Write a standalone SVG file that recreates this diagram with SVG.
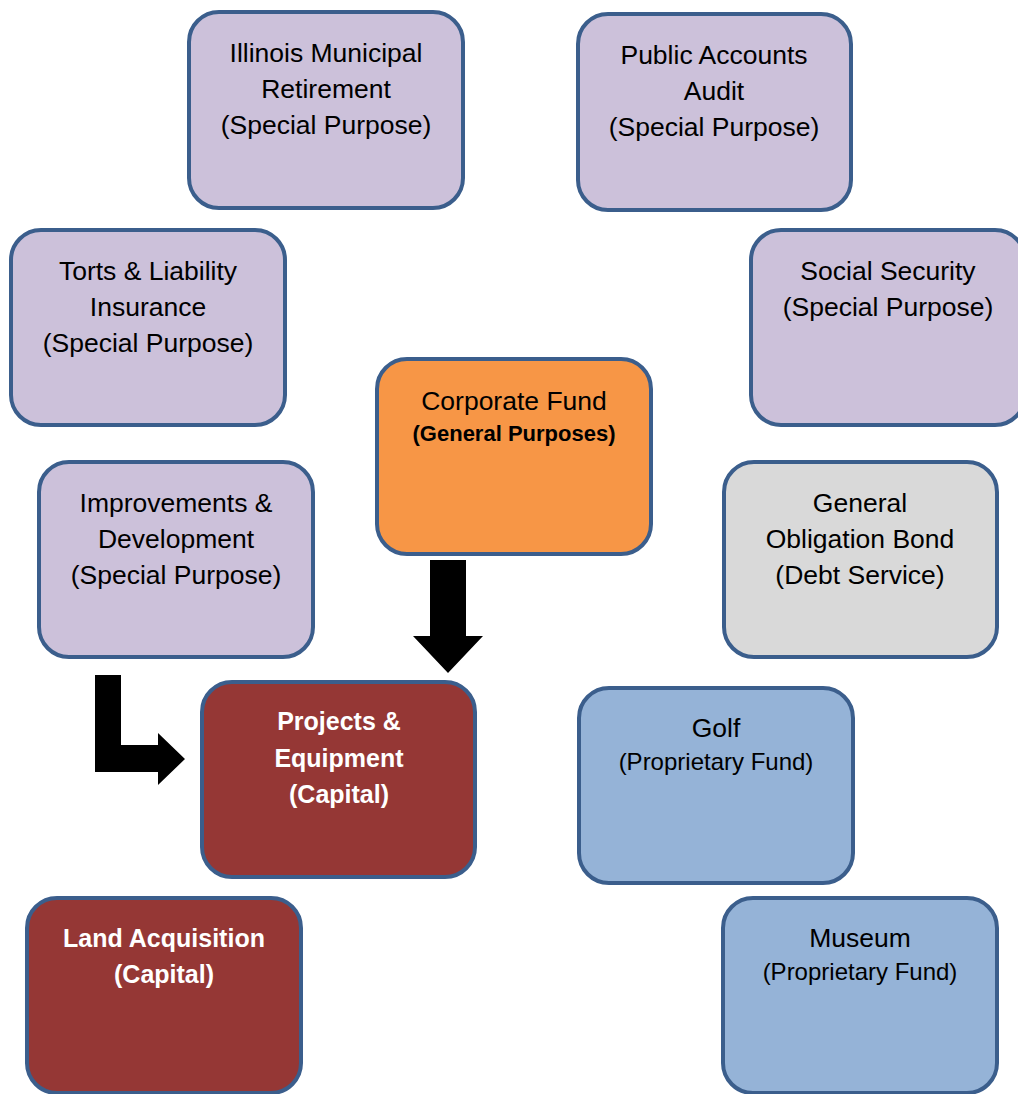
<svg xmlns="http://www.w3.org/2000/svg" width="1018" height="1094" viewBox="0 0 1018 1094">
<style>
.box{stroke:#3B5E8C;stroke-width:4}
.lav{fill:#CCC1DA}.org{fill:#F79646}.gry{fill:#D9D9D9}.blu{fill:#95B3D7}.red{fill:#953735}
text{font-family:"Liberation Sans",Arial,sans-serif;text-anchor:middle;fill:#000}
.t{font-size:26.5px}.s{font-size:24px}.gb{font-size:22px;font-weight:bold}
.w{font-size:25px;font-weight:bold;fill:#fff}
</style>
<rect width="1018" height="1094" fill="#fff"/>
<g id="connectors" fill="#000">
<polygon points="430,560 466,560 466,636 483,636 448,673 413,636 430,636"/>
<polygon points="95,675 121,675 121,745 158,745 158,733 185,759 158,785 158,772 95,772"/>
</g>
<g id="imrf"><rect class="box lav" x="189" y="12" width="274" height="196" rx="30"/>
<text class="t" x="326" y="62">Illinois Municipal</text><text class="t" x="326" y="98">Retirement</text><text class="t" x="326" y="134">(Special Purpose)</text></g>
<g id="audit"><rect class="box lav" x="578" y="14" width="273" height="196" rx="30"/>
<text class="t" x="714" y="64">Public Accounts</text><text class="t" x="714" y="100">Audit</text><text class="t" x="714" y="136">(Special Purpose)</text></g>
<g id="torts"><rect class="box lav" x="11" y="230" width="274" height="195" rx="30"/>
<text class="t" x="148" y="280">Torts &amp; Liability</text><text class="t" x="148" y="316">Insurance</text><text class="t" x="148" y="352">(Special Purpose)</text></g>
<g id="socsec"><rect class="box lav" x="751" y="230" width="274" height="195" rx="30"/>
<text class="t" x="888" y="280">Social Security</text><text class="t" x="888" y="316">(Special Purpose)</text></g>
<g id="corporate"><rect class="box org" x="377" y="359" width="274" height="195" rx="30"/>
<text class="t" x="514" y="410">Corporate Fund</text><text class="gb" x="514" y="441">(General Purposes)</text></g>
<g id="improvements"><rect class="box lav" x="39" y="462" width="274" height="195" rx="30"/>
<text class="t" x="176" y="512">Improvements &amp;</text><text class="t" x="176" y="548">Development</text><text class="t" x="176" y="584">(Special Purpose)</text></g>
<g id="gobond"><rect class="box gry" x="724" y="462" width="273" height="195" rx="30"/>
<text class="t" x="860" y="512">General</text><text class="t" x="860" y="548">Obligation Bond</text><text class="t" x="860" y="584">(Debt Service)</text></g>
<g id="projects"><rect class="box red" x="202" y="682" width="273" height="195" rx="30"/>
<text class="w" x="339" y="730">Projects &amp;</text><text class="w" x="339" y="767">Equipment</text><text class="w" x="339" y="803">(Capital)</text></g>
<g id="golf"><rect class="box blu" x="579" y="688" width="274" height="195" rx="30"/>
<text class="t" x="716" y="737">Golf</text><text class="s" x="716" y="770">(Proprietary Fund)</text></g>
<g id="land"><rect class="box red" x="27" y="898" width="274" height="195" rx="30"/>
<text class="w" x="164" y="947">Land Acquisition</text><text class="w" x="164" y="983">(Capital)</text></g>
<g id="museum"><rect class="box blu" x="723" y="898" width="274" height="195" rx="30"/>
<text class="t" x="860" y="947">Museum</text><text class="s" x="860" y="980">(Proprietary Fund)</text></g>
</svg>
